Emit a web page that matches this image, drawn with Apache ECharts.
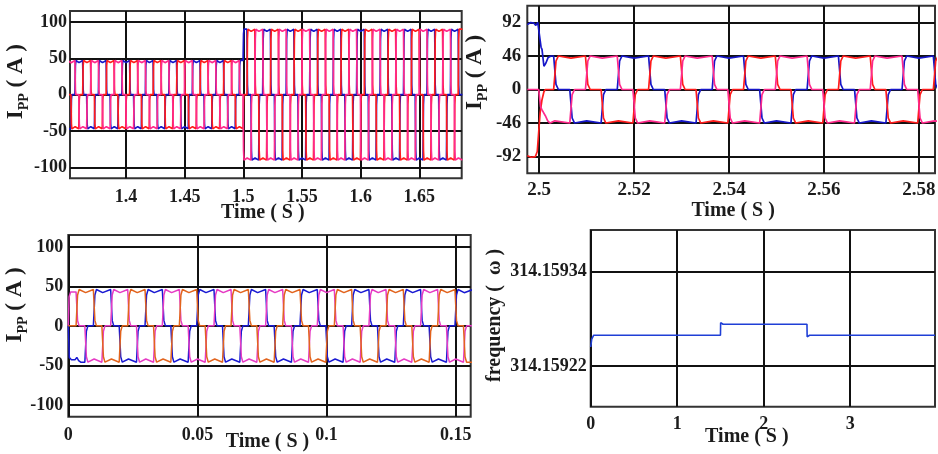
<!DOCTYPE html>
<html><head><meta charset="utf-8">
<script src="https://cdn.jsdelivr.net/npm/echarts@6/dist/echarts.min.js"></script>
<style>html,body{margin:0;padding:0;background:#fff}#c{width:938px;height:454px}</style>
</head><body><div id="c"></div>
<script>
// ---------------- DATA ----------------
// Panel 1: commutation instants (s) and phase currents (A) per interval
const p1Times = [
 1.35,1.3533,1.3567, 1.36,1.3633,1.3667, 1.37,1.3733,1.3767, 1.38,1.3833,1.3867,
 1.39,1.3933,1.3967, 1.40,1.4033,1.4067, 1.41,1.4133,1.4167, 1.42,1.4233,1.4267,
 1.43,1.4333,1.4367, 1.44,1.4433,1.4467, 1.45,1.4533,1.4567, 1.46,1.4633,1.4667,
 1.47,1.4733,1.4767, 1.48,1.4833,1.4867, 1.49,1.4933,1.4967, 1.50,1.5033,1.5067,
 1.51,1.5133,1.5167, 1.52,1.5233,1.5267, 1.53,1.5333,1.5367, 1.54,1.5433,1.5467,
 1.55,1.5533,1.5567, 1.56,1.5633,1.5667, 1.57,1.5733,1.5767, 1.58,1.5833,1.5867,
 1.59,1.5933,1.5967, 1.60,1.6033,1.6067, 1.61,1.6133,1.6167, 1.62,1.6233,1.6267,
 1.63,1.6333,1.6367, 1.64,1.6433,1.6467, 1.65,1.6533,1.6567, 1.66,1.6633,1.6667,
 1.67,1.6733,1.6767, 1.68,1.6833,1.6867];
const p1Blue = [
 -47,0,47,47,0,-47, -47,0,47,47,0,-47, -47,0,47,47,0,-47, -47,0,47,47,0,-47,
 -47,0,47,47,0,-47, -47,0,47,47,0,-47, -47,0,47,47,0,-47,
 -47,0,47, 90,0,-90,
 -90,0,90,90,0,-90, -90,0,90,90,0,-90, -90,0,90,90,0,-90, -90,0,90,90,0,-90,
 -90,0,90,90,0,-90, -90,0,90,90,0,-90, -90,0,90,90,0,-90, -90,0,90,90,0,-90,
 -90,0,90,90,0];
const p1Red = [
 0,-47,-47,0,47,47, 0,-47,-47,0,47,47, 0,-47,-47,0,47,47, 0,-47,-47,0,47,47,
 0,-47,-47,0,47,47, 0,-47,-47,0,47,47, 0,-47,-47,0,47,47,
 0,-47,-47, 0,90,90,
 0,-90,-90,0,90,90, 0,-90,-90,0,90,90, 0,-90,-90,0,90,90, 0,-90,-90,0,90,90,
 0,-90,-90,0,90,90, 0,-90,-90,0,90,90, 0,-90,-90,0,90,90, 0,-90,-90,0,90,90,
 0,-90,-90,0,90];
const p1Pink = [
 47,47,0,-47,-47,0, 47,47,0,-47,-47,0, 47,47,0,-47,-47,0, 47,47,0,-47,-47,0,
 47,47,0,-47,-47,0, 47,47,0,-47,-47,0, 47,47,0,-47,-47,0,
 47,47,0, -90,-90,0,
 90,90,0,-90,-90,0, 90,90,0,-90,-90,0, 90,90,0,-90,-90,0, 90,90,0,-90,-90,0,
 90,90,0,-90,-90,0, 90,90,0,-90,-90,0, 90,90,0,-90,-90,0, 90,90,0,-90,-90,0,
 90,90,0,-90,-90];

// Panel 2
const p2Times = [2.4967,2.5,2.5033,2.5067,2.51,2.5133,2.5167,2.52,2.5233,2.5267,2.53,2.5333,2.5367,2.54,
 2.5433,2.5467,2.55,2.5533,2.5567,2.56,2.5633,2.5667,2.57,2.5733,2.5767,2.58,2.5833,2.5867];
const p2Blue = [92,46,0,-46,-46,0, 46,46,0,-46,-46,0, 46,46,0,-46,-46,0, 46,46,0,-46,-46,0, 46,46,0];
const p2Red  = [-92,0,46,46,0,-46, -46,0,46,46,0,-46, -46,0,46,46,0,-46, -46,0,46,46,0,-46, -46,0,46];
const p2Pink = [0,-46,-46,0,46,46, 0,-46,-46,0,46,46, 0,-46,-46,0,46,46, 0,-46,-46,0,46,46, 0,-46,-46];
// transient at the load change (t, A)
const p2BlueHead = [[2.4975,89],[2.4982,92],[2.4989,91],[2.4993,88],[2.4997,92],[2.5001,91],[2.5004,58],
 [2.5006,55],[2.5010,32],[2.5014,36],[2.5019,44],[2.5025,46]];
const p2RedHead = [[2.4975,-91],[2.4983,-93],[2.4992,-92],[2.4996,-85],[2.5002,-32],[2.5006,-14],[2.5010,-3],[2.5013,0]];
const p2PinkHead = [[2.4975,0],[2.4999,0],[2.5003,-24],[2.5006,-28],[2.5009,-30],[2.5013,-36],[2.5018,-43],[2.5023,-46]];

// Panel 3
const p3Times = [0,0.0033,0.0067, 0.01,0.0133,0.0167, 0.02,0.0233,0.0267, 0.03,0.0333,0.0367,
 0.04,0.0433,0.0467, 0.05,0.0533,0.0567, 0.06,0.0633,0.0667, 0.07,0.0733,0.0767,
 0.08,0.0833,0.0867, 0.09,0.0933,0.0967, 0.10,0.1033,0.1067, 0.11,0.1133,0.1167,
 0.12,0.1233,0.1267, 0.13,0.1333,0.1367, 0.14,0.1433,0.1467, 0.15,0.1533,0.1567];
const p3Blue = [
 -46,-46,0,46,46,0, -46,-46,0,46,46,0, -46,-46,0,46,46,0, -46,-46,0,46,46,0,
 -46,-46,0,46,46,0, -46,-46,0,46,46,0, -46,-46,0,46,46,0, -46,-46,0,46,46];
const p3Pink = [
 43,0,-46,-46,0,46, 46,0,-46,-46,0,46, 46,0,-46,-46,0,46, 46,0,-46,-46,0,46,
 46,0,-46,-46,0,46, 46,0,-46,-46,0,46, 46,0,-46,-46,0,46, 46,0,-46,-46,0];
const p3Orange = [
 0,46,46,0,-46,-46, 0,46,46,0,-46,-46, 0,46,46,0,-46,-46, 0,46,46,0,-46,-46,
 0,46,46,0,-46,-46, 0,46,46,0,-46,-46, 0,46,46,0,-46,-46, 0,46,46,0,-46];
const p3BlueHead = [[0,0],[0.0004,-40],[0.0012,-43],[0.0026,-43],[0.0033,-40],[0.0040,-44],[0.0048,-46]];

// Panel 4: rotor frequency
const freqT = [0, 0.012, 0.035, 1.5, 1.502, 1.53, 2.5, 2.502, 2.53, 3.98];
const freqV = [314.159244, 314.159254, 314.159259, 314.159259, 314.159275, 314.159273,
 314.159273, 314.159257, 314.159259, 314.159259];

// tick labels
const p1XTicks = [1.4, 1.45, 1.5, 1.55, 1.6, 1.65];
const p1YTicks = [-100, -50, 0, 50, 100];
const p2XTicks = [2.5, 2.52, 2.54, 2.56, 2.58];
const p2YTicks = [-92, -46, 0, 46, 92];
const p3XTicks = [0, 0.05, 0.1, 0.15];
const p3YTicks = [-100, -50, 0, 50, 100];
const p4XTicks = [0, 1, 2, 3];
const p4YTicks = [314.15922, 314.15934];

// ---------------- drawing ----------------
function wave(times, levels, cfg) {
  const r = cfg.ramp, dip = cfg.dip;
  let prev = cfg.start !== undefined ? cfg.start : levels[0];
  let pts = [[times[0], prev]];
  for (let i = 0; i < levels.length; i++) {
    const t = times[i], v = levels[i];
    if (v !== prev) {
      pts.push([t - r, prev]);
      pts.push([t + r, prev + 0.85 * (v - prev)]);
      pts.push([t + 3 * r, v]);
    } else if (v !== 0 && i > 0) {
      pts.push([t, v - Math.sign(v) * dip]);
    }
    prev = v;
  }
  pts.push([times[times.length - 1], prev]);
  if (cfg.head) {
    const last = cfg.head[cfg.head.length - 1][0];
    pts = cfg.head.concat(pts.filter(p => p[0] > last));
  }
  return pts;
}

const FONT = "'Liberation Serif','Times New Roman',Times,serif";
const TXT = '#1c1c1c';
const GRIDC = '#111';

function mkGrid(l, t, w, h) {
  return {left: l, top: t, width: w, height: h, show: true, borderColor: '#333', borderWidth: 2,
    backgroundColor: '#fff', containLabel: false, outerBoundsMode: 'none'};
}
function mkX(gi, min, max, ticks, margin, gap, pad, lfs) {
  return {
    type: 'value', gridIndex: gi, min: min, max: max,
    axisLine: {show: false}, axisTick: {show: false, customValues: ticks},
    axisLabel: {customValues: ticks, margin: margin, fontFamily: FONT, fontSize: lfs || 18, fontWeight: 'bold', color: TXT},
    splitLine: {show: true, lineStyle: {color: GRIDC, width: 2}},
    name: 'Time ( S )', nameLocation: 'middle', nameGap: gap, nameMoveOverlap: false,
    nameTextStyle: {fontFamily: FONT, fontSize: 20, fontWeight: 'bold', color: TXT, lineHeight: 20, padding: pad}
  };
}
const richI = {
  i: {fontFamily: FONT, fontSize: 23, fontWeight: 'bold', color: TXT, lineHeight: 30, verticalAlign: 'middle'},
  s: {fontFamily: FONT, fontSize: 14, fontWeight: 'bold', color: TXT, lineHeight: 22, verticalAlign: 'bottom'}
};
function mkY(gi, min, max, ticks, margin, gap, pad, name, fmt, fs, lfs) {
  return {
    type: 'value', gridIndex: gi, min: min, max: max,
    axisLine: {show: false}, axisTick: {show: false, customValues: ticks},
    axisLabel: {customValues: ticks, margin: margin, fontFamily: FONT, fontSize: lfs || 18, fontWeight: 'bold', color: TXT,
      formatter: fmt},
    splitLine: {show: true, lineStyle: {color: GRIDC, width: 2}},
    name: name, nameLocation: 'middle', nameGap: gap, nameRotate: 90, nameMoveOverlap: false,
    nameTextStyle: {fontFamily: FONT, fontSize: fs, fontWeight: 'bold', color: TXT, padding: pad, rich: richI}
  };
}
function ln(gi, data, color, w) {
  return {type: 'line', xAxisIndex: gi, yAxisIndex: gi, data: data, symbol: 'none', showSymbol: false,
    lineStyle: {color: color, width: w}, silent: true, animation: false, clip: true};
}

const BLUE = '#1616c8', RED = '#ff1c1c', PINK = '#ff2a8c';
const BLUE3 = '#1a1ad2', MAG3 = '#e63cc4', ORG3 = '#e2641e';
const cfg1 = {ramp: 0.0002, dip: 3};
const cfg2 = {ramp: 0.00025, dip: 3};
const cfg3 = {ramp: 0.0003, dip: 4};
const IPP = '{i|I}{s|PP}{i| ( A )}';

const option = {
  backgroundColor: '#fff',
  animation: false,
  grid: [mkGrid(70, 11, 391.7, 167.3), mkGrid(527.3, 5.7, 407.7, 167.6), mkGrid(68.3, 235, 402.4, 181.7), mkGrid(590.7, 230, 344.3, 176.7)],
  xAxis: [
    mkX(0, 1.3523, 1.6861, p1XTicks, 10, 25, [0, 6, 0, 0]),
    mkX(1, 2.4975, 2.5834, p2XTicks, 7, 28, [0, 0, 0, 4], 19),
    mkX(2, 0, 0.1558, p3XTicks, 10, 15, [0, 4, 0, 0]),
    mkX(3, 0, 3.98, p4XTicks, 9, 20, [0, 32, 0, 0])
  ],
  yAxis: [
    mkY(0, -115, 115, p1YTicks, 3, 39, [0, 0, 0, 26], IPP, null, 23),
    mkY(1, -115, 115, p2YTicks, 6, 37, [0, 0, 0, 34], IPP, null, 23, 19),
    mkY(2, -115, 115, p3YTicks, 5, 38, [0, 0, 0, 42], IPP, null, 23),
    mkY(3, 314.159168, 314.159393, p4YTicks, 4, 86, [0, 0, 0, 6], 'frequency (  ω )', v => Number(v).toFixed(5), 20)
  ],
  series: [
    ln(0, wave(p1Times, p1Blue, cfg1), BLUE, 1.7),
    ln(0, wave(p1Times, p1Red, cfg1), RED, 1.7),
    ln(0, wave(p1Times, p1Pink, cfg1), PINK, 1.7),
    ln(1, wave(p2Times, p2Blue, Object.assign({head: p2BlueHead}, cfg2)), BLUE, 1.7),
    ln(1, wave(p2Times, p2Red, Object.assign({head: p2RedHead}, cfg2)), RED, 1.7),
    ln(1, wave(p2Times, p2Pink, Object.assign({head: p2PinkHead}, cfg2)), PINK, 1.7),
    ln(2, wave(p3Times, p3Blue, Object.assign({head: p3BlueHead}, cfg3)), BLUE3, 1.5),
    ln(2, wave(p3Times, p3Pink, Object.assign({start: 0}, cfg3)), MAG3, 1.5),
    ln(2, wave(p3Times, p3Orange, Object.assign({start: 0}, cfg3)), ORG3, 1.5),
    ln(3, freqT.map((t, i) => [t, freqV[i]]), '#1f3fd6', 1.6)
  ]
};
const chart = echarts.init(document.getElementById('c'));
chart.setOption(option);
</script></body></html>
